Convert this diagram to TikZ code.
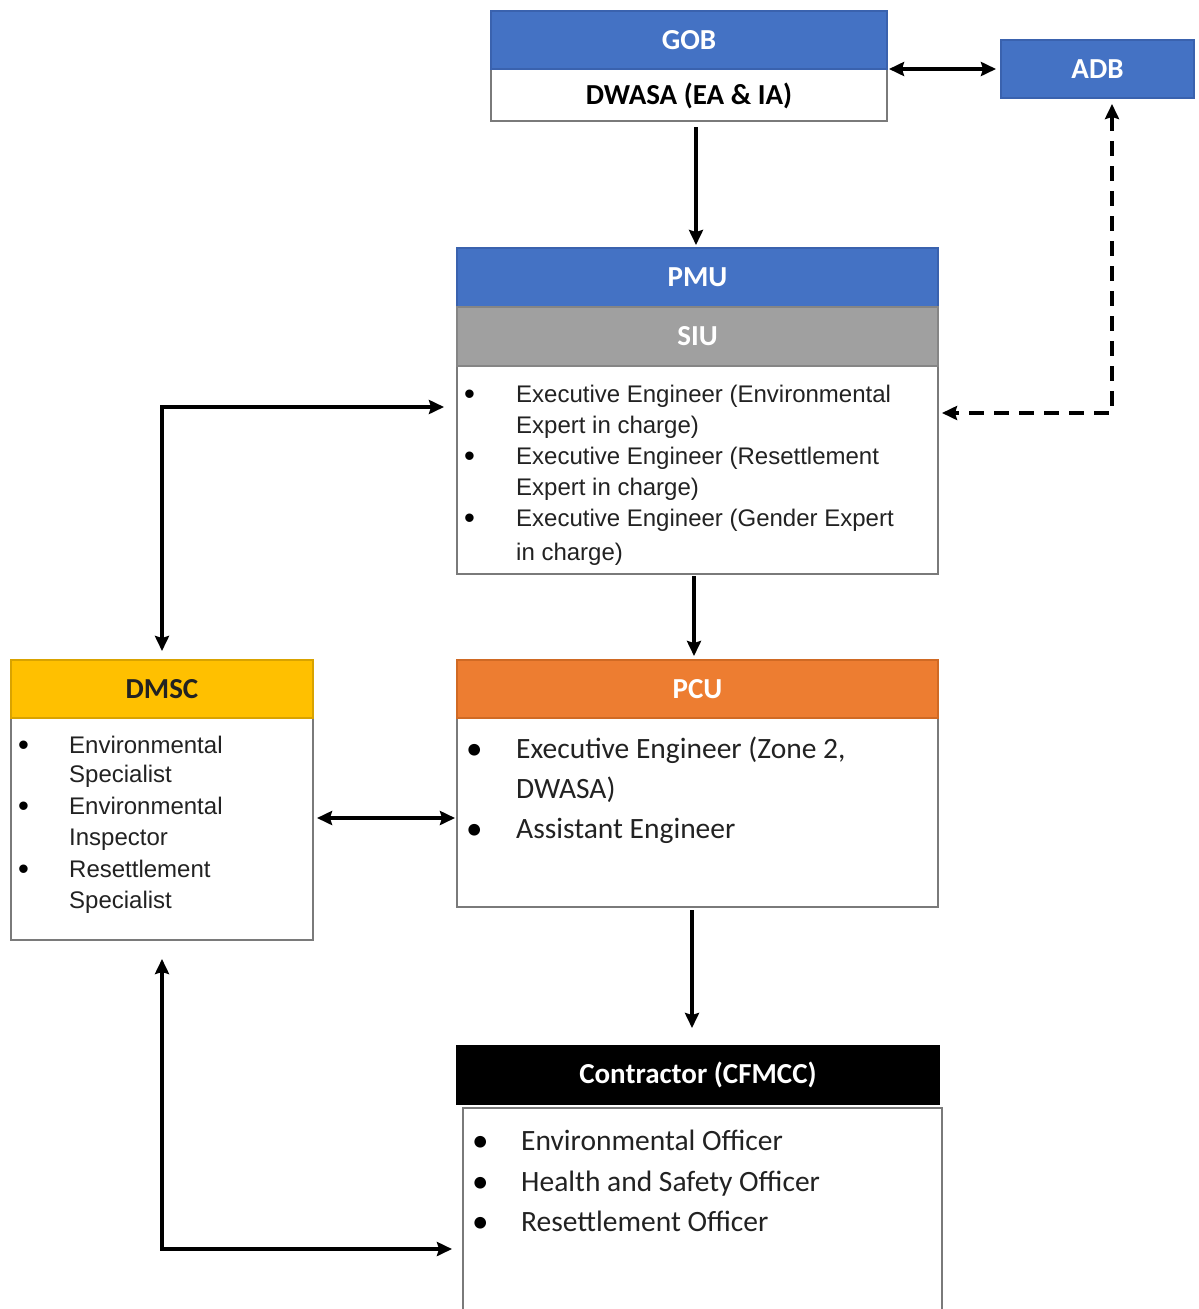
\documentclass[tikz,border=0pt]{standalone}
\usepackage{fontspec}
\setmainfont{Liberation Sans}
\newfontfamily\calfont{Carlito}
\usetikzlibrary{arrows.meta}
\definecolor{hblue}{HTML}{4472C4}
\definecolor{hbluedk}{HTML}{3A62AE}
\definecolor{hgray}{HTML}{A0A0A0}
\definecolor{hgraydk}{HTML}{858585}
\definecolor{horange}{HTML}{ED7D31}
\definecolor{horangedk}{HTML}{D06A24}
\definecolor{hyellow}{HTML}{FFC000}
\definecolor{hyellowdk}{HTML}{D9A300}
\definecolor{bodytxt}{HTML}{222222}
\definecolor{boxline}{HTML}{7A7A7A}
\begin{document}
\begin{tikzpicture}[x=1pt,y=-1pt,
  hdr/.style={line width=1.5pt, inner sep=0pt, outer sep=0pt, anchor=north west,
    font=\calfont\bfseries\fontsize{29}{34}\selectfont, text=white},
  bodybox/.style={draw=boxline, line width=1.6pt, fill=white, inner sep=0pt, outer sep=0pt, anchor=north west},
  ar/.style={anchor=base west, inner sep=0pt, text=bodytxt, font=\fontsize{24}{28}\selectfont},
  arb/.style={anchor=base west, inner sep=0pt, text=black, font=\fontsize{31}{28}\selectfont},
  ca/.style={anchor=base west, inner sep=0pt, text=bodytxt, font=\calfont\fontsize{29.5}{34}\selectfont},
  cab/.style={anchor=base west, inner sep=0pt, text=black, font=\calfont\fontsize{33}{34}\selectfont},
  conn/.style={line width=3.8pt, {Stealth[length=15pt,width=14pt,inset=2pt]}-{Stealth[length=15pt,width=14pt,inset=2pt]}},
  conn1/.style={line width=3.8pt, -{Stealth[length=15pt,width=14pt,inset=2pt]}},
  dconn/.style={conn, dash pattern=on 15pt off 10pt}]
\useasboundingbox (0,0) rectangle (1199,1309);
\fill[white] (0,0) rectangle (1199,1309);

% top
\node[bodybox, minimum width=396pt, minimum height=52pt, font=\calfont\bfseries\fontsize{29}{34}\selectfont, text=black, text depth=3pt] (dwasa) at (491,69) {DWASA (EA \& IA)};
\node[hdr, fill=hblue, draw=hbluedk, minimum width=396pt, minimum height=58pt] (gob) at (491,11) {GOB};
\node[hdr, fill=hblue, draw=hbluedk, minimum width=193pt, minimum height=58pt] (adb) at (1001,40) {ADB};

% PMU / SIU
\node[bodybox, minimum width=481pt, minimum height=208pt] (pmub) at (457,366) {};
\node[hdr, fill=hblue, draw=hbluedk, minimum width=481pt, minimum height=59pt] (pmu) at (457,248) {PMU};
\node[hdr, fill=hgray, draw=hgraydk, minimum width=481pt, minimum height=59pt] (siu) at (457,307) {SIU};
\node[arb] (pb1) at (464,404) {•};
\node[ar] (pt1) at (516,402) {Executive Engineer (Environmental};
\node[ar] (pt2) at (516,433) {Expert in charge)};
\node[arb] (pb2) at (464,466) {•};
\node[ar] (pt3) at (516,464) {Executive Engineer (Resettlement};
\node[ar] (pt4) at (516,495) {Expert in charge)};
\node[arb] (pb3) at (464,528) {•};
\node[ar] (pt5) at (516,526) {Executive Engineer (Gender Expert};
\node[ar] (pt6) at (516,560) {in charge)};

% DMSC
\node[bodybox, minimum width=302pt, minimum height=222pt] (dmscb) at (11,718) {};
\node[hdr, fill=hyellow, draw=hyellowdk, minimum width=302pt, minimum height=58pt, text=bodytxt] (dmsc) at (11,660) {DMSC};
\node[arb] (db1) at (18,755) {•};
\node[ar] (dt1) at (69,753) {Environmental};
\node[ar] (dt2) at (69,782) {Specialist};
\node[arb] (db2) at (18,816) {•};
\node[ar] (dt3) at (69,814) {Environmental};
\node[ar] (dt4) at (69,845) {Inspector};
\node[arb] (db3) at (18,879) {•};
\node[ar] (dt5) at (69,877) {Resettlement};
\node[ar] (dt6) at (69,908) {Specialist};

% PCU
\node[bodybox, minimum width=481pt, minimum height=189pt] (pcub) at (457,718) {};
\node[hdr, fill=horange, draw=horangedk, minimum width=481pt, minimum height=58pt] (pcu) at (457,660) {PCU};
\node[cab] (cb1) at (466,759) {•};
\node[ca] (ct1) at (516,758) {Executive Engineer (Zone 2,};
\node[ca] (ct2) at (516,798) {DWASA)};
\node[cab] (cb2) at (466,839) {•};
\node[ca] (ct3) at (516,838) {Assistant Engineer};

% Contractor
\node[bodybox, minimum width=479pt, minimum height=215pt] (conb) at (463,1108) {};
\node[hdr, fill=black, draw=black, minimum width=482pt, minimum height=58pt] (con) at (457,1046) {Contractor (CFMCC)};
\node[cab] (kb1) at (472,1151) {•};
\node[ca] (kt1) at (521,1150) {Environmental Officer};
\node[cab] (kb2) at (472,1192) {•};
\node[ca] (kt2) at (521,1191) {Health and Safety Officer};
\node[cab] (kb3) at (472,1232) {•};
\node[ca] (kt3) at (521,1231) {Resettlement Officer};

% connectors
\draw[conn, shorten <=2pt, shorten >=5pt] (gob.south east) -- (adb.west);
\coordinate (c1) at (696,127);
\draw[conn1, shorten >=3pt] (c1) -- (c1 |- pmu.north);
\coordinate (c2) at (1112,413);
\draw[dconn, shorten <=6pt, shorten >=4pt] (c2 |- adb.south) -- (c2) -- (c2 -| pmub.east);
\coordinate (c3) at (162,407);
\draw[conn, shorten <=9pt, shorten >=13pt] (dmsc.north) -- (c3) -- (c3 -| pmub.west);
\coordinate (c4) at (694,576);
\draw[conn1, shorten >=4pt] (c4) -- (c4 |- pcu.north);
\coordinate (c5) at (318,818);
\draw[conn, shorten <=4pt, shorten >=2pt] (c5 -| dmscb.east) -- (c5 -| pcub.west);
\coordinate (c6) at (692,910);
\draw[conn1, shorten >=18pt] (c6) -- (c6 |- con.north);
\coordinate (c7) at (162,1249);
\draw[conn, shorten <=19pt, shorten >=11pt] (dmscb.south) -- (c7) -- (c7 -| conb.west);
\end{tikzpicture}
\end{document}
